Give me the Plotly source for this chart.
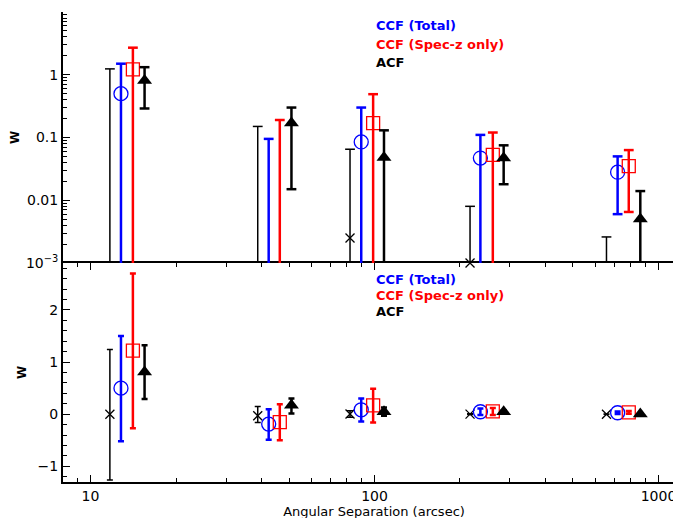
import plotly.graph_objects as go
import numpy as np

# data: angular separation (arcsec), w, upper and lower error-bar ends
x_cross = [11.7, 38.8, 82, 217, 656]
w_cross = [0.0, -0.03, 0.0025, 0.001, -0.001]
hi_cross = [1.24, 0.15, 0.065, 0.008, 0.0026]
lo_cross = [-1.26, -0.16, -0.06, -0.006, -0.002]

x_tot = [12.8, 42.4, 89.8, 236, 718]
w_tot = [0.5, -0.19, 0.085, 0.047, 0.028]
hi_tot = [1.5, 0.095, 0.3, 0.11, 0.05]
lo_tot = [-0.52, -0.49, -0.14, -0.015, 0.006]

x_spec = [14.1, 46.4, 98.9, 261, 786]
w_spec = [1.22, -0.15, 0.17, 0.053, 0.035]
hi_spec = [2.7, 0.19, 0.49, 0.12, 0.063]
lo_spec = [-0.27, -0.5, -0.16, -0.015, 0.0065]

x_acf = [15.5, 51, 108, 285, 863]
w_acf = [0.81, 0.17, 0.048, 0.047, 0.005]
hi_acf = [1.32, 0.3, 0.13, 0.075, 0.014]
lo_acf = [0.29, 0.015, -0.03, 0.018, -0.004]

FLOOR = 1e-3
series = [
    (x_cross, w_cross, hi_cross, lo_cross, 'black', 1.5, dict(symbol='x-thin', size=9, color='black', line=dict(width=1.3, color='black'))),
    (x_tot, w_tot, hi_tot, lo_tot, 'blue', 2.5, dict(symbol='circle-open', size=14, color='blue', line=dict(width=1.3, color='blue'))),
    (x_spec, w_spec, hi_spec, lo_spec, 'red', 2.5, dict(symbol='square-open', size=13, color='red', line=dict(width=1.3, color='red'))),
    (x_acf, w_acf, hi_acf, lo_acf, 'black', 2.5, dict(symbol='triangle-up', size=13, color='black')),
]

fig = go.Figure()
for xs, ws, his, los, col, lw, mk in series:
    lx, ly, cx, cy = [], [], [], []
    for x, w, h, l in zip(xs, ws, his, los):
        bot = l if l > FLOOR else FLOOR * 0.9
        lx += [x, x, None]; ly += [bot, h, None]
        cx.append(x); cy.append(h)
        if l > FLOOR:
            cx.append(x); cy.append(l)
    fig.add_trace(go.Scatter(x=lx, y=ly, mode='lines', line=dict(color=col, width=lw),
                             xaxis='x', yaxis='y2', showlegend=False))
    fig.add_trace(go.Scatter(x=cx, y=cy, mode='markers',
                             marker=dict(symbol='line-ew', size=7, color=col, line=dict(width=lw, color=col)),
                             xaxis='x', yaxis='y2', showlegend=False))
    px = [x for x, w in zip(xs, ws) if w > 0]
    py = [w for w in ws if w > 0]
    fig.add_trace(go.Scatter(x=px, y=py, mode='markers', marker=mk,
                             xaxis='x', yaxis='y2', showlegend=False, cliponaxis=False))
    fig.add_trace(go.Scatter(x=xs, y=ws, mode='markers', marker=mk,
                             error_y=dict(type='data', array=[h - w for h, w in zip(his, ws)],
                                          arrayminus=[w - l for l, w in zip(los, ws)],
                                          color=col, thickness=lw, width=3),
                             xaxis='x', yaxis='y', showlegend=False))

xminor = [m * 10 ** d for d in range(0, 4) for m in range(2, 10)]
yminor = [m * 10.0 ** d for d in range(-3, 1) for m in range(2, 10)]
font = dict(family='DejaVu Sans', size=12, color='black')
ax_common = dict(showline=True, linecolor='black', linewidth=2, mirror='ticks', ticks='inside',
                 ticklen=7, tickwidth=1, tickcolor='black', showgrid=False, zeroline=False,
                 tickfont=dict(family='DejaVu Sans', size=14, color='black'))
xr = [np.log10(8.0), np.log10(1240)]
fig.update_layout(
    width=681, height=518, margin=dict(l=48, r=2, t=4, b=44),
    paper_bgcolor='white', plot_bgcolor='white', font=font,
    xaxis=dict(type='log', range=xr, tickvals=[10, 100, 1000],
               ticktext=['10', '100', '1000'], anchor='y',
               minor=dict(ticks='inside', ticklen=4, tickcolor='black', tickvals=xminor, showgrid=False),
               title=dict(text='Angular Separation (arcsec)', font=dict(size=13), standoff=2), **ax_common),
    yaxis=dict(domain=[0, 0.466], range=[-1.3, 2.9], tickvals=[-1, 0, 1, 2], ticktext=['−1', '0', '1', '2'],
               minor=dict(ticks='inside', ticklen=4, tickcolor='black', dtick=0.2),
               title=dict(text='<b>W</b>', font=dict(size=12), standoff=8), **ax_common),
    yaxis2=dict(domain=[0.466, 1], type='log', range=[-3, 1.0],
                tickvals=[1e-3, 1e-2, 0.1, 1, 10], ticktext=['10<sup>−3</sup>', '0.01', '0.1', '1', '10'],
                minor=dict(ticks='inside', ticklen=4, tickcolor='black', tickvals=yminor),
                title=dict(text='<b>W</b>', font=dict(size=12), standoff=8), **ax_common),
)
legend = [('CCF (Total)', 'blue'), ('CCF (Spec-z only)', 'red'), ('ACF', 'black')]
for yref, y0 in [('y2 domain', 0.985), ('y domain', 0.97)]:
    for i, (t, c) in enumerate(legend):
        fig.add_annotation(text='<b>%s</b>' % t, x=0.5, xref='paper', y=y0 - i * 0.075, yref=yref,
                           xanchor='left', yanchor='top', showarrow=False,
                           font=dict(family='DejaVu Sans', size=13, color=c))
fig.write_html('out.html')
